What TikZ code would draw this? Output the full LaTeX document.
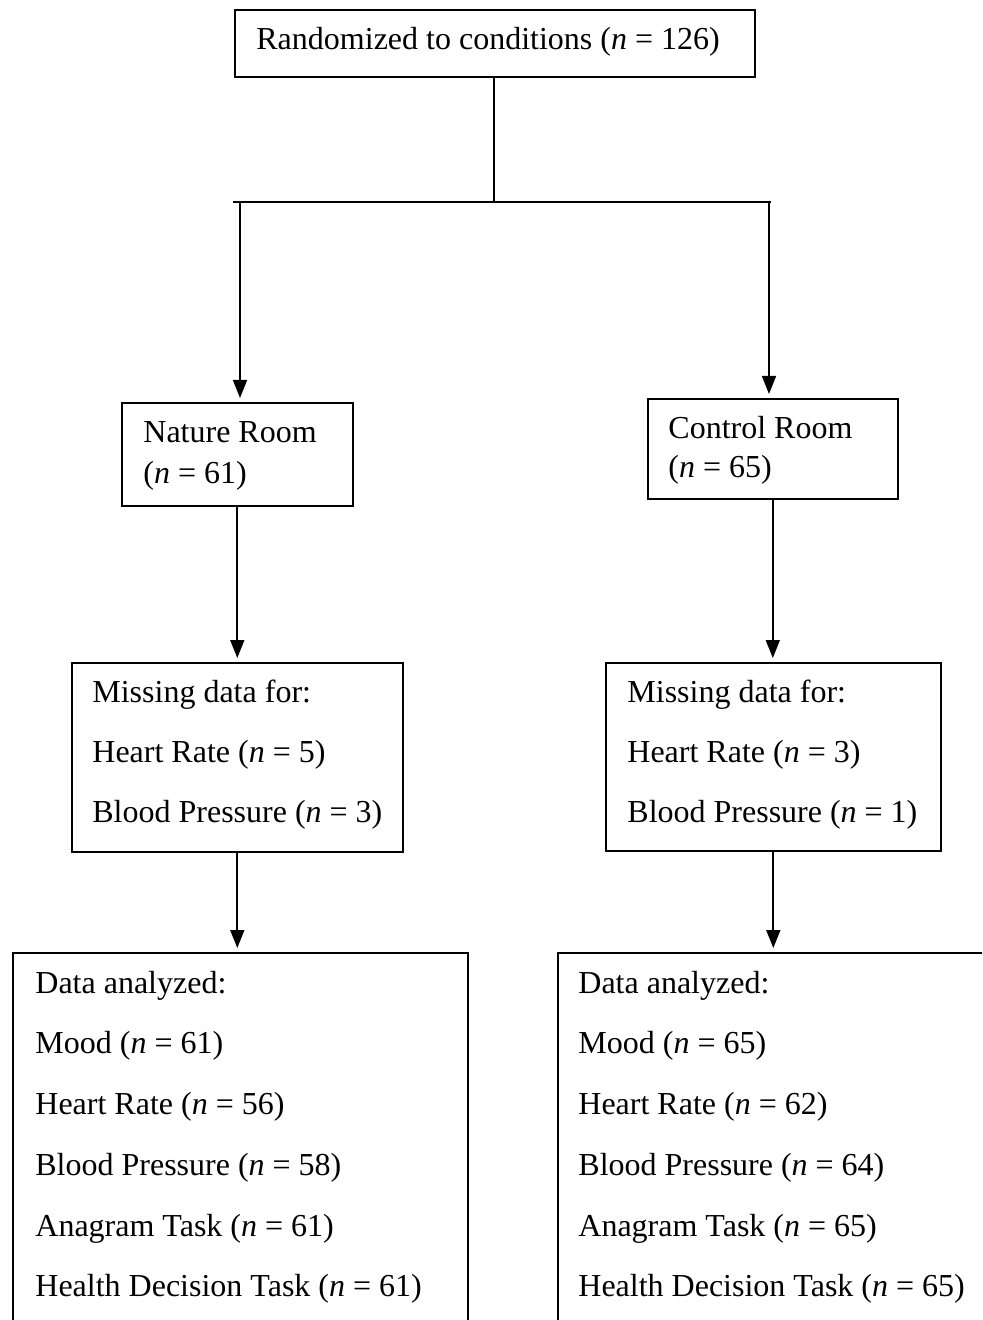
\documentclass[tikz,border=0pt]{standalone}
\usepackage{fontspec}
\setmainfont{Liberation Serif}
\usetikzlibrary{arrows.meta}
\begin{document}
\begin{tikzpicture}[x=0.5pt,y=-0.5pt,
  box/.style={draw, line width=0.8pt, rectangle, inner sep=0pt, anchor=north west},
  txt/.style={anchor=base west, inner sep=0pt, font=\fontsize{16}{19}\selectfont},
  conn/.style={line width=0.85pt},
  arr/.style={line width=0.85pt, -{Triangle[width=7pt,length=9pt]}, shorten >=2pt}]
\useasboundingbox (0,0) rectangle (982,1320);
\clip (0,0) rectangle (982,1320);

% boxes
\node[box, minimum width=260pt, minimum height=33.5pt] (top) at (234,9) {};
\node[box, minimum width=115.5pt, minimum height=51.5pt] (nature) at (121,402) {};
\node[box, minimum width=125pt, minimum height=50pt] (control) at (647,398) {};
\node[box, minimum width=165.5pt, minimum height=94.5pt] (missL) at (71,662) {};
\node[box, minimum width=167.5pt, minimum height=94pt] (missR) at (605,662) {};
\node[box, minimum width=227.5pt, minimum height=194pt] (dataL) at (12,952) {};
\node[box, minimum width=221.5pt, minimum height=194pt] (dataR) at (557,952) {};

% texts
\node[txt] (t0) at (256,50) {Randomized to conditions (\textit{n} = 126)};
\node[txt] (t1) at (143,442) {Nature Room};
\node[txt] (t2) at (143,483) {(\textit{n} = 61)};
\node[txt] (t3) at (668,438) {Control Room};
\node[txt] (t4) at (668,477) {(\textit{n} = 65)};
\node[txt] (t5) at (92,702) {Missing data for:};
\node[txt] (t6) at (92,762) {Heart Rate (\textit{n} = 5)};
\node[txt] (t7) at (92,822) {Blood Pressure (\textit{n} = 3)};
\node[txt] (t8) at (627,702) {Missing data for:};
\node[txt] (t9) at (627,762) {Heart Rate (\textit{n} = 3)};
\node[txt] (t10) at (627,822) {Blood Pressure (\textit{n} = 1)};
\node[txt] (a1) at (35,993) {Data analyzed:};
\node[txt] (a2) at (35,1053) {Mood (\textit{n} = 61)};
\node[txt] (a3) at (35,1114) {Heart Rate (\textit{n} = 56)};
\node[txt] (a4) at (35,1175) {Blood Pressure (\textit{n} = 58)};
\node[txt] (a5) at (35,1236) {Anagram Task (\textit{n} = 61)};
\node[txt] (a6) at (35,1296) {Health Decision Task (\textit{n} = 61)};
\node[txt] (b1) at (578,993) {Data analyzed:};
\node[txt] (b2) at (578,1053) {Mood (\textit{n} = 65)};
\node[txt] (b3) at (578,1114) {Heart Rate (\textit{n} = 62)};
\node[txt] (b4) at (578,1175) {Blood Pressure (\textit{n} = 64)};
\node[txt] (b5) at (578,1236) {Anagram Task (\textit{n} = 65)};
\node[txt] (b6) at (578,1296) {Health Decision Task (\textit{n} = 65)};

% connectors
\coordinate (split) at (494,202);
\coordinate (splitL) at (233,202);
\coordinate (splitR) at (771,202);
\coordinate (jL) at (240,202);
\coordinate (jR) at (769,202);
\draw[conn] (top.south -| split) -- (split);
\draw[conn] (splitL) -- (splitR);
\draw[arr] (jL) -- (jL |- nature.north);
\draw[arr] (jR) -- (jR |- control.north);
\draw[arr] (nature.south) -- (nature.south |- missL.north);
\draw[arr] (control.south) -- (control.south |- missR.north);
\draw[arr] (missL.south) -- (missL.south |- dataL.north);
\draw[arr] (missR.south) -- (missR.south |- dataR.north);
\end{tikzpicture}
\end{document}
